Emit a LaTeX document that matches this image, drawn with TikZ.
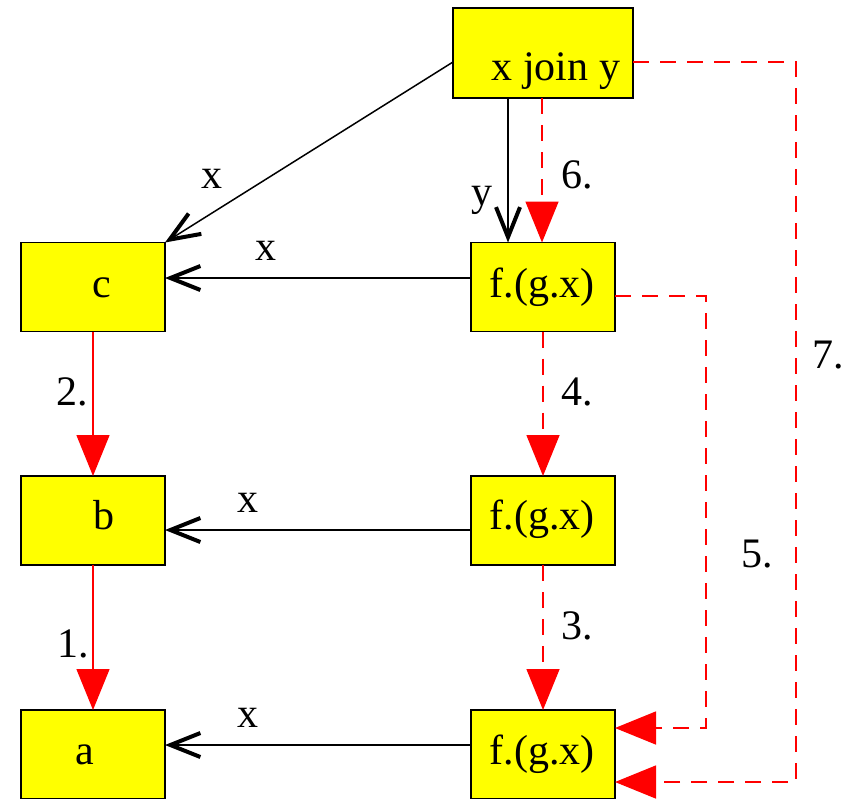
\documentclass[tikz,border=0pt]{standalone}
\usepackage{fontspec}
\setmainfont{Liberation Serif}
\usetikzlibrary{arrows.meta,calc}
\definecolor{boxyellow}{RGB}{255,255,0}
\definecolor{pured}{RGB}{255,0,0}
\begin{document}
\begin{tikzpicture}[x=1pt,y=-1pt,
  box/.style={draw=black,line width=1.5pt,fill=boxyellow,minimum width=144pt,minimum height=89pt,inner sep=0pt,outer sep=0pt},
  txt/.style={font=\fontsize{42}{50}\selectfont,anchor=base,inner sep=0pt,outer sep=0pt},
  blk/.style={draw=black,line width=1.5pt,-{Straight Barb[length=30pt,width=24pt,line width=4pt]}},
  redsolid/.style={draw=pured,line width=1.5pt,-{Triangle[length=41pt,width=33pt]}},
  reddash/.style={draw=pured,line width=1.5pt,dash pattern=on 16pt off 11pt,-{Triangle[length=41pt,width=33pt]}}]
\useasboundingbox (0,0) rectangle (850,798);
% boxes
\node[box,minimum width=180pt,minimum height=90pt] (join) at (543,53) {};
\node[box] (c)  at (93,287) {};
\node[box] (f1) at (543,287) {};
\node[box] (b)  at (93,520.5) {};
\node[box] (f2) at (543,520.5) {};
\node[box] (a)  at (93,754.5) {};
\node[box] (f3) at (543,754.5) {};
% box texts
\node[txt,anchor=base east] (tjoin) at (620,80) {x join y};
\node[txt] (tc)  at (102,297) {c};
\node[txt] (tf1) at (542,297) {f.(g.x)};
\node[txt] (tb)  at (104,529) {b};
\node[txt] (tf2) at (542,529) {f.(g.x)};
\node[txt] (ta)  at (85,764) {a};
\node[txt] (tf3) at (542,764) {f.(g.x)};
% black arrows
\draw[blk] ($(join.west)+(0,9)$) -- (c.north east);
\draw[blk] ($(join.south)+(-35,0)$) -- ($(f1.north)+(-35,0)$);
\draw[blk] ($(f1.west)+(0,-9)$) -- ($(c.east)+(0,-9)$);
\draw[blk] ($(f2.west)+(0,9.5)$) -- ($(b.east)+(0,9.5)$);
\draw[blk] ($(f3.west)+(0,-9.5)$) -- ($(a.east)+(0,-9.5)$);
% red solid arrows
\draw[redsolid] (c.south) -- (b.north);
\draw[redsolid] (b.south) -- (a.north);
% red dashed arrows
\draw[reddash] ($(join.south)+(-1,0)$) -- ($(f1.north)+(-1,0)$);
\draw[reddash] (f1.south) -- (f2.north);
\draw[reddash] (f2.south) -- (f3.north);
\draw[reddash] ($(f1.east)+(0,9)$) -- (706,296) -- (706,728) -- ($(f3.east)+(0,-26.5)$);
\draw[reddash] ($(join.east)+(0,9)$) -- (796,62) -- (796,782) -- ($(f3.east)+(0,27.5)$);
% labels
\node[txt] (lx1) at (212,188) {x};
\node[txt] (ly)  at (482,205) {y};
\node[txt] (l6)  at (577,188) {6.};
\node[txt] (lx2) at (266,260) {x};
\node[txt] (l2)  at (72,405) {2.};
\node[txt] (l4)  at (577,405) {4.};
\node[txt] (l7)  at (828,368) {7.};
\node[txt] (lx3) at (248,512) {x};
\node[txt] (l5)  at (757,567) {5.};
\node[txt] (l1)  at (73,657) {1.};
\node[txt] (l3)  at (577,639) {3.};
\node[txt] (lx4) at (248,727) {x};
\end{tikzpicture}
\end{document}
